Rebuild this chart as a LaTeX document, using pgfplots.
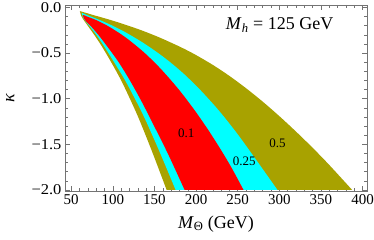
\documentclass[border=0pt]{standalone}
\usepackage{fontspec}
\setmainfont{Liberation Serif}
\usepackage{graphicx}
\usepackage{pgfplots}
\usepgfplotslibrary{fillbetween}
\pgfplotsset{compat=1.18}
\definecolor{oliv}{RGB}{168,162,0}
\definecolor{cyn}{RGB}{0,255,255}
\definecolor{rd}{RGB}{255,0,0}
\definecolor{framec}{RGB}{115,115,115}
\newcommand{\tl}[1]{\scalebox{1.1}[1]{#1}}
\begin{document}
\begin{tikzpicture}
\begin{axis}[
  scale only axis, width=302pt, height=186pt,
  xmin=42.5, xmax=405.3, ymin=-2.011, ymax=0.027,
  axis line style={framec, line width=0.6pt},
  tick style={framec, line width=0.5pt},
  tick align=inside,
  major tick length=5pt, minor tick length=3pt,
  xtick={50,100,150,200,250,300,350,400},
  xticklabels={50,100,150,200,250,300,350,400},
  minor x tick num=4,
  ytick={-2,-1.5,-1,-0.5,0},
  yticklabels={\tl{−2.0},\tl{−1.5},\tl{−1.0},\tl{−0.5},\tl{0.0}},
  minor y tick num=4,
  ticklabel style={font=\fontsize{15}{18}\selectfont},
  xlabel={\textit{M}\textsubscript{Θ} (GeV)},
  xlabel style={font=\fontsize{18}{21}\selectfont, at={(axis description cs:0.5,-0.177)}, anchor=center},
  ylabel={\textit{κ}},
  ylabel style={font=\fontsize{18}{21}\selectfont, at={(axis description cs:-0.1815,0.5)}, anchor=center},
]
% olive (0.5)
\addplot[draw=none, smooth, name path=oR] coordinates {
(60.4,-0.04) (68,-0.06) (76,-0.082) (96,-0.134) (116,-0.192) (136,-0.256) (156,-0.329) (176,-0.411) (188,-0.464) (200,-0.522) (220,-0.629) (240,-0.750) (260,-0.885) (280,-1.032) (300,-1.191) (320,-1.360) (340,-1.538) (360,-1.726) (387.5,-2.0)};
\addplot[draw=none, smooth, name path=oL] coordinates {
(60.4,-0.04) (61.5,-0.08) (64,-0.125) (71,-0.215) (78,-0.305) (87,-0.43) (98,-0.60) (110,-0.80) (122,-1.03) (132,-1.235) (148,-1.60) (164.6,-2.0)};
\addplot[oliv] fill between[of=oR and oL];
% cyan (0.25)
\addplot[draw=none, smooth, name path=cR] coordinates {
(62.5,-0.058) (68.8,-0.082) (80,-0.122) (93,-0.172) (105,-0.224) (116.7,-0.28) (136,-0.385) (156,-0.51) (171,-0.616) (186,-0.734) (203,-0.885) (220,-1.053) (232,-1.181) (250,-1.39) (271,-1.655) (297.8,-2.0)};
\addplot[draw=none, smooth, name path=cL] coordinates {
(62.5,-0.058) (63.5,-0.09) (65.5,-0.13) (72.8,-0.215) (80.5,-0.305) (89.8,-0.43) (101.5,-0.60) (114.8,-0.80) (128.2,-1.03) (139.3,-1.235) (157,-1.60) (175.4,-2.0)};
\addplot[cyn] fill between[of=cR and cL];
% red (0.1)
\addplot[draw=none, smooth, name path=rR] coordinates {
(64,-0.08) (72,-0.11) (80,-0.138) (96.3,-0.215) (116,-0.333) (135.9,-0.48) (150,-0.602) (161,-0.707) (175,-0.853) (186.2,-0.98) (200,-1.149) (215,-1.348) (230,-1.563) (243,-1.763) (257,-2.0)};
\addplot[draw=none, smooth, name path=rL] coordinates {
(64,-0.08) (64.8,-0.11) (67.5,-0.15) (74.5,-0.215) (83,-0.305) (93.5,-0.43) (107,-0.60) (120.5,-0.80) (134.5,-1.03) (146,-1.235) (166,-1.60) (186.2,-2.0)};
\addplot[rd] fill between[of=rR and rL];
\node[font=\fontsize{13}{15}\selectfont] at (axis cs:188.2,-1.383) {0.1};
\node[font=\fontsize{13}{15}\selectfont] at (axis cs:257.8,-1.690) {0.25};
\node[font=\fontsize{13}{15}\selectfont] at (axis cs:297.8,-1.493) {0.5};
\node[font=\fontsize{18}{21}\selectfont, anchor=east] at (axis cs:369,-0.192) {\textit{M}\textsubscript{\textit{h}} = 125 GeV};
\end{axis}
\pgfresetboundingbox
\path[use as bounding box] (current axis.south west) ++(-65pt,-49pt) rectangle ([shift={(7pt,5pt)}]current axis.north east);
\end{tikzpicture}
\end{document}
